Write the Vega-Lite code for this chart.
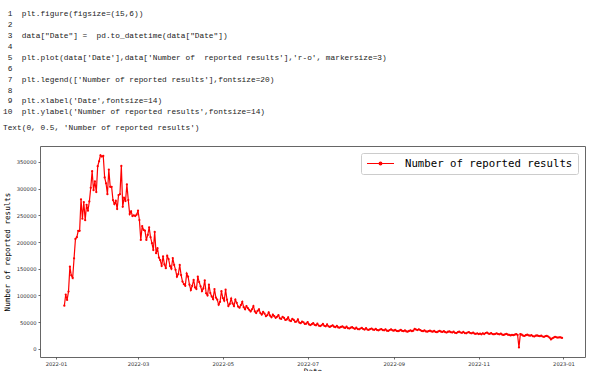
{
  "$schema": "https://vega.github.io/schema/vega-lite/v6.json",
  "autosize": {"type": "none"},
  "width": 545,
  "height": 211,
  "padding": {"left": 40, "top": 146, "right": 15, "bottom": 14},
  "background": "white",
  "title": {
    "text": [
      "\u200b\u00a01\u00a0\u00a0plt.figure(figsize=(15,6))",
      "\u200b\u00a02",
      "\u200b\u00a03\u00a0\u00a0data[\"Date\"]\u00a0=\u00a0\u00a0pd.to_datetime(data[\"Date\"])",
      "\u200b\u00a04",
      "\u200b\u00a05\u00a0\u00a0plt.plot(data['Date'],data['Number\u00a0of\u00a0\u00a0reported\u00a0results'],'r-o',\u00a0markersize=3)",
      "\u200b\u00a06",
      "\u200b\u00a07\u00a0\u00a0plt.legend(['Number\u00a0of\u00a0reported\u00a0results'],fontsize=20)",
      "\u200b\u00a08",
      "\u200b\u00a09\u00a0\u00a0plt.xlabel('Date',fontsize=14)",
      "\u200b10\u00a0\u00a0plt.ylabel('Number\u00a0of\u00a0reported\u00a0results',fontsize=14)"
    ],
    "subtitle": "Text(0,\u00a00.5,\u00a0'Number\u00a0of\u00a0reported\u00a0results')",
    "anchor": "start",
    "frame": "group",
    "dx": -37,
    "font": "Liberation Mono",
    "fontSize": 7.8,
    "fontWeight": "normal",
    "color": "#222222",
    "lineHeight": 10.9,
    "subtitleFont": "Liberation Mono",
    "subtitleFontSize": 7.8,
    "subtitleColor": "#222222",
    "subtitlePadding": 8,
    "offset": 14
  },
  "data": {
    "values": [
      {"d":"2022-01-07","v":80630},{"d":"2022-01-08","v":101503},{"d":"2022-01-09","v":91477},{"d":"2022-01-10","v":107134},{"d":"2022-01-11","v":153880},{"d":"2022-01-12","v":137586},{"d":"2022-01-13","v":132726},{"d":"2022-01-14","v":169484},{"d":"2022-01-15","v":205800},{"d":"2022-01-16","v":209000},{"d":"2022-01-17","v":221000},{"d":"2022-01-18","v":221000},{"d":"2022-01-19","v":280000},{"d":"2022-01-20","v":243600},{"d":"2022-01-21","v":274800},{"d":"2022-01-22","v":241000},{"d":"2022-01-23","v":269800},{"d":"2022-01-24","v":258600},{"d":"2022-01-25","v":276000},{"d":"2022-01-26","v":301500},{"d":"2022-01-27","v":332600},{"d":"2022-01-28","v":297200},{"d":"2022-01-29","v":313400},{"d":"2022-01-30","v":293500},{"d":"2022-01-31","v":342000},
      {"d":"2022-02-01","v":351300},{"d":"2022-02-02","v":362500},{"d":"2022-02-03","v":360000},{"d":"2022-02-04","v":361200},{"d":"2022-02-05","v":321000},{"d":"2022-02-06","v":310000},{"d":"2022-02-07","v":289700},{"d":"2022-02-08","v":335800},{"d":"2022-02-09","v":303400},{"d":"2022-02-10","v":303400},{"d":"2022-02-11","v":278500},{"d":"2022-02-12","v":271000},{"d":"2022-02-13","v":277000},{"d":"2022-02-14","v":261700},{"d":"2022-02-15","v":288000},{"d":"2022-02-16","v":289700},{"d":"2022-02-17","v":342500},{"d":"2022-02-18","v":266000},{"d":"2022-02-19","v":282800},{"d":"2022-02-20","v":276700},{"d":"2022-02-21","v":307800},{"d":"2022-02-22","v":278500},{"d":"2022-02-23","v":252400},{"d":"2022-02-24","v":257500},{"d":"2022-02-25","v":248700},{"d":"2022-02-26","v":250000},{"d":"2022-02-27","v":248700},{"d":"2022-02-28","v":251100},
      {"d":"2022-03-01","v":258600},{"d":"2022-03-02","v":241200},{"d":"2022-03-03","v":204000},{"d":"2022-03-04","v":230000},{"d":"2022-03-05","v":222600},{"d":"2022-03-06","v":221300},{"d":"2022-03-07","v":204000},{"d":"2022-03-08","v":213200},{"d":"2022-03-09","v":227600},{"d":"2022-03-10","v":209000},{"d":"2022-03-11","v":197800},{"d":"2022-03-12","v":185000},{"d":"2022-03-13","v":218800},{"d":"2022-03-14","v":179000},{"d":"2022-03-15","v":188400},{"d":"2022-03-16","v":171000},{"d":"2022-03-17","v":166000},{"d":"2022-03-18","v":155000},{"d":"2022-03-19","v":173000},{"d":"2022-03-20","v":158000},{"d":"2022-03-21","v":151000},{"d":"2022-03-22","v":174000},{"d":"2022-03-23","v":168000},{"d":"2022-03-24","v":155000},{"d":"2022-03-25","v":150000},{"d":"2022-03-26","v":170000},{"d":"2022-03-27","v":157000},{"d":"2022-03-28","v":148000},{"d":"2022-03-29","v":135000},{"d":"2022-03-30","v":140000},{"d":"2022-03-31","v":157000},
      {"d":"2022-04-01","v":138000},{"d":"2022-04-02","v":126000},{"d":"2022-04-03","v":121000},{"d":"2022-04-04","v":118000},{"d":"2022-04-05","v":141000},{"d":"2022-04-06","v":135000},{"d":"2022-04-07","v":120000},{"d":"2022-04-08","v":110000},{"d":"2022-04-09","v":118000},{"d":"2022-04-10","v":129000},{"d":"2022-04-11","v":115000},{"d":"2022-04-12","v":112000},{"d":"2022-04-13","v":135000},{"d":"2022-04-14","v":125000},{"d":"2022-04-15","v":117000},{"d":"2022-04-16","v":108000},{"d":"2022-04-17","v":113000},{"d":"2022-04-18","v":128000},{"d":"2022-04-19","v":104000},{"d":"2022-04-20","v":100000},{"d":"2022-04-21","v":120000},{"d":"2022-04-22","v":104500},{"d":"2022-04-23","v":98000},{"d":"2022-04-24","v":93000},{"d":"2022-04-25","v":112000},{"d":"2022-04-26","v":96000},{"d":"2022-04-27","v":92000},{"d":"2022-04-28","v":82600},{"d":"2022-04-29","v":88000},{"d":"2022-04-30","v":108000},
      {"d":"2022-05-01","v":95000},{"d":"2022-05-02","v":90000},{"d":"2022-05-03","v":110600},{"d":"2022-05-04","v":92000},{"d":"2022-05-05","v":80000},{"d":"2022-05-06","v":84000},{"d":"2022-05-07","v":94000},{"d":"2022-05-08","v":85000},{"d":"2022-05-09","v":80000},{"d":"2022-05-10","v":92000},{"d":"2022-05-11","v":86000},{"d":"2022-05-12","v":79000},{"d":"2022-05-13","v":77000},{"d":"2022-05-14","v":82000},{"d":"2022-05-15","v":88000},{"d":"2022-05-16","v":78000},{"d":"2022-05-17","v":74000},{"d":"2022-05-18","v":80000},{"d":"2022-05-19","v":76000},{"d":"2022-05-20","v":73000},{"d":"2022-05-21","v":70000},{"d":"2022-05-22","v":74000},{"d":"2022-05-23","v":80000},{"d":"2022-05-24","v":70000},{"d":"2022-05-25","v":67000},{"d":"2022-05-26","v":71000},{"d":"2022-05-27","v":74000},{"d":"2022-05-28","v":67000},{"d":"2022-05-29","v":64000},{"d":"2022-05-30","v":69000},{"d":"2022-05-31","v":66000},
      {"d":"2022-06-01","v":61000},{"d":"2022-06-02","v":63000},{"d":"2022-06-03","v":68000},{"d":"2022-06-04","v":62000},{"d":"2022-06-05","v":59000},{"d":"2022-06-06","v":64000},{"d":"2022-06-07","v":61000},{"d":"2022-06-08","v":58000},{"d":"2022-06-09","v":60000},{"d":"2022-06-10","v":63000},{"d":"2022-06-11","v":57000},{"d":"2022-06-12","v":56000},{"d":"2022-06-13","v":60000},{"d":"2022-06-14","v":58000},{"d":"2022-06-15","v":54000},{"d":"2022-06-16","v":55000},{"d":"2022-06-17","v":59000},{"d":"2022-06-18","v":53000},{"d":"2022-06-19","v":52000},{"d":"2022-06-20","v":56000},{"d":"2022-06-21","v":54000},{"d":"2022-06-22","v":50500},{"d":"2022-06-23","v":51000},{"d":"2022-06-24","v":55000},{"d":"2022-06-25","v":49000},{"d":"2022-06-26","v":48000},{"d":"2022-06-27","v":51000},{"d":"2022-06-28","v":49500},{"d":"2022-06-29","v":46500},{"d":"2022-06-30","v":47000},
      {"d":"2022-07-01","v":50000},{"d":"2022-07-02","v":45500},{"d":"2022-07-03","v":44500},{"d":"2022-07-04","v":46000},{"d":"2022-07-05","v":48000},{"d":"2022-07-06","v":45000},{"d":"2022-07-07","v":44000},{"d":"2022-07-08","v":47000},{"d":"2022-07-09","v":43500},{"d":"2022-07-10","v":42500},{"d":"2022-07-11","v":44000},{"d":"2022-07-12","v":46500},{"d":"2022-07-13","v":43000},{"d":"2022-07-14","v":42000},{"d":"2022-07-15","v":45500},{"d":"2022-07-16","v":42000},{"d":"2022-07-17","v":41000},{"d":"2022-07-18","v":42500},{"d":"2022-07-19","v":44000},{"d":"2022-07-20","v":41500},{"d":"2022-07-21","v":40500},{"d":"2022-07-22","v":43000},{"d":"2022-07-23","v":40000},{"d":"2022-07-24","v":39500},{"d":"2022-07-25","v":41000},{"d":"2022-07-26","v":42000},{"d":"2022-07-27","v":40000},{"d":"2022-07-28","v":39000},{"d":"2022-07-29","v":41500},{"d":"2022-07-30","v":38500},{"d":"2022-07-31","v":38000},
      {"d":"2022-08-01","v":39500},{"d":"2022-08-02","v":40500},{"d":"2022-08-03","v":38500},{"d":"2022-08-04","v":37500},{"d":"2022-08-05","v":39500},{"d":"2022-08-06","v":37000},{"d":"2022-08-07","v":36500},{"d":"2022-08-08","v":38000},{"d":"2022-08-09","v":39000},{"d":"2022-08-10","v":37000},{"d":"2022-08-11","v":36000},{"d":"2022-08-12","v":38500},{"d":"2022-08-13","v":36000},{"d":"2022-08-14","v":35500},{"d":"2022-08-15","v":37000},{"d":"2022-08-16","v":38000},{"d":"2022-08-17","v":36000},{"d":"2022-08-18","v":35500},{"d":"2022-08-19","v":37500},{"d":"2022-08-20","v":35000},{"d":"2022-08-21","v":34500},{"d":"2022-08-22","v":36000},{"d":"2022-08-23","v":37000},{"d":"2022-08-24","v":35000},{"d":"2022-08-25","v":34500},{"d":"2022-08-26","v":36500},{"d":"2022-08-27","v":34000},{"d":"2022-08-28","v":33500},{"d":"2022-08-29","v":35000},{"d":"2022-08-30","v":36500},{"d":"2022-08-31","v":34500},
      {"d":"2022-09-01","v":34000},{"d":"2022-09-02","v":35500},{"d":"2022-09-03","v":33500},{"d":"2022-09-04","v":33000},{"d":"2022-09-05","v":34000},{"d":"2022-09-06","v":35500},{"d":"2022-09-07","v":33500},{"d":"2022-09-08","v":33000},{"d":"2022-09-09","v":34500},{"d":"2022-09-10","v":32500},{"d":"2022-09-11","v":32000},{"d":"2022-09-12","v":33500},{"d":"2022-09-13","v":34500},{"d":"2022-09-14","v":33000},{"d":"2022-09-15","v":34000},{"d":"2022-09-16","v":37500},{"d":"2022-09-17","v":36000},{"d":"2022-09-18","v":35000},{"d":"2022-09-19","v":36500},{"d":"2022-09-20","v":35000},{"d":"2022-09-21","v":33500},{"d":"2022-09-22","v":33000},{"d":"2022-09-23","v":34500},{"d":"2022-09-24","v":32500},{"d":"2022-09-25","v":32000},{"d":"2022-09-26","v":33000},{"d":"2022-09-27","v":34000},{"d":"2022-09-28","v":32500},{"d":"2022-09-29","v":32000},{"d":"2022-09-30","v":33500},
      {"d":"2022-10-01","v":31500},{"d":"2022-10-02","v":31000},{"d":"2022-10-03","v":32500},{"d":"2022-10-04","v":33500},{"d":"2022-10-05","v":32000},{"d":"2022-10-06","v":31500},{"d":"2022-10-07","v":33000},{"d":"2022-10-08","v":31000},{"d":"2022-10-09","v":30500},{"d":"2022-10-10","v":32000},{"d":"2022-10-11","v":32500},{"d":"2022-10-12","v":31000},{"d":"2022-10-13","v":30500},{"d":"2022-10-14","v":32000},{"d":"2022-10-15","v":30000},{"d":"2022-10-16","v":29500},{"d":"2022-10-17","v":31000},{"d":"2022-10-18","v":32000},{"d":"2022-10-19","v":30500},{"d":"2022-10-20","v":30000},{"d":"2022-10-21","v":31500},{"d":"2022-10-22","v":29500},{"d":"2022-10-23","v":29000},{"d":"2022-10-24","v":30500},{"d":"2022-10-25","v":31000},{"d":"2022-10-26","v":29500},{"d":"2022-10-27","v":29000},{"d":"2022-10-28","v":30500},{"d":"2022-10-29","v":28500},{"d":"2022-10-30","v":28000},{"d":"2022-10-31","v":29000},
      {"d":"2022-11-01","v":27500},{"d":"2022-11-02","v":28500},{"d":"2022-11-03","v":27000},{"d":"2022-11-04","v":29000},{"d":"2022-11-05","v":27500},{"d":"2022-11-06","v":29500},{"d":"2022-11-07","v":30500},{"d":"2022-11-08","v":28500},{"d":"2022-11-09","v":28000},{"d":"2022-11-10","v":29500},{"d":"2022-11-11","v":27500},{"d":"2022-11-12","v":27000},{"d":"2022-11-13","v":28000},{"d":"2022-11-14","v":29000},{"d":"2022-11-15","v":27500},{"d":"2022-11-16","v":27000},{"d":"2022-11-17","v":28500},{"d":"2022-11-18","v":26500},{"d":"2022-11-19","v":26000},{"d":"2022-11-20","v":27000},{"d":"2022-11-21","v":28000},{"d":"2022-11-22","v":26500},{"d":"2022-11-23","v":26000},{"d":"2022-11-24","v":25000},{"d":"2022-11-25","v":26000},{"d":"2022-11-26","v":25500},{"d":"2022-11-27","v":26500},{"d":"2022-11-28","v":27500},{"d":"2022-11-29","v":26000},{"d":"2022-11-30","v":2569},
      {"d":"2022-12-01","v":27500},{"d":"2022-12-02","v":26500},{"d":"2022-12-03","v":24500},{"d":"2022-12-04","v":24000},{"d":"2022-12-05","v":25500},{"d":"2022-12-06","v":26500},{"d":"2022-12-07","v":25000},{"d":"2022-12-08","v":24500},{"d":"2022-12-09","v":25500},{"d":"2022-12-10","v":23500},{"d":"2022-12-11","v":23000},{"d":"2022-12-12","v":24500},{"d":"2022-12-13","v":25000},{"d":"2022-12-14","v":24000},{"d":"2022-12-15","v":23500},{"d":"2022-12-16","v":24500},{"d":"2022-12-17","v":23000},{"d":"2022-12-18","v":22500},{"d":"2022-12-19","v":23500},{"d":"2022-12-20","v":24000},{"d":"2022-12-21","v":23000},{"d":"2022-12-22","v":21000},{"d":"2022-12-23","v":17500},{"d":"2022-12-24","v":19500},{"d":"2022-12-25","v":21000},{"d":"2022-12-26","v":22500},{"d":"2022-12-27","v":21500},{"d":"2022-12-28","v":21000},{"d":"2022-12-29","v":21500},{"d":"2022-12-30","v":21204},{"d":"2022-12-31","v":20380}
    ]
  },
  "mark": {
    "type": "line",
    "strokeWidth": 1.2,
    "point": {"filled": true, "size": 5}
  },
  "encoding": {
    "x": {
      "field": "d",
      "type": "temporal",
      "scale": {
        "type": "utc",
        "domain": [
          {"year": 2021, "month": 12, "date": 20, "hours": 12, "utc": true},
          {"year": 2023, "month": 1, "date": 16, "hours": 12, "utc": true}
        ]
      },
      "axis": {
        "title": "Date",
        "values": [
          {"year": 2022, "month": 1, "date": 1, "utc": true},
          {"year": 2022, "month": 3, "date": 1, "utc": true},
          {"year": 2022, "month": 5, "date": 1, "utc": true},
          {"year": 2022, "month": 7, "date": 1, "utc": true},
          {"year": 2022, "month": 9, "date": 1, "utc": true},
          {"year": 2022, "month": 11, "date": 1, "utc": true},
          {"year": 2023, "month": 1, "date": 1, "utc": true}
        ],
        "format": "%Y-%m",
        "formatType": "time",
        "labelFlush": false,
        "labelOverlap": false,
        "titlePadding": 1
      }
    },
    "y": {
      "field": "v",
      "type": "quantitative",
      "scale": {"domain": [-15398, 379875], "nice": false, "zero": false},
      "axis": {
        "title": "Number of reported results",
        "values": [0, 50000, 100000, 150000, 200000, 250000, 300000, 350000],
        "format": "d",
        "titlePadding": 5
      }
    },
    "color": {
      "datum": "Number of reported results",
      "scale": {"range": ["#ff0000"]},
      "legend": {
        "title": null,
        "orient": "top-right",
        "offset": 7,
        "padding": 5,
        "fillColor": "white",
        "strokeColor": "#cccccc",
        "cornerRadius": 2,
        "labelFont": "DejaVu Sans Mono",
        "labelFontSize": 10.7,
        "labelColor": "#000000",
        "labelLimit": 0,
        "labelOffset": 28,
        "symbolType": "M-1,0L5,0M1.7,0A0.3,0.3,0,1,1,2.3,0A0.3,0.3,0,1,1,1.7,0Z",
        "symbolSize": 81,
        "symbolStrokeWidth": 1.2,
        "symbolStrokeColor": "#ff0000",
        "symbolFillColor": "#ff0000"
      }
    }
  },
  "config": {
    "view": {"stroke": "#666666", "strokeWidth": 1},
    "axis": {
      "grid": false,
      "domain": false,
      "tickSize": 2,
      "tickColor": "#444444",
      "tickWidth": 0.8,
      "labelFont": "DejaVu Sans",
      "labelFontSize": 5.2,
      "labelColor": "#333333",
      "labelPadding": 2,
      "titleFont": "DejaVu Sans Mono",
      "titleFontSize": 7.6,
      "titleFontWeight": "normal",
      "titleColor": "#000000"
    }
  }
}
